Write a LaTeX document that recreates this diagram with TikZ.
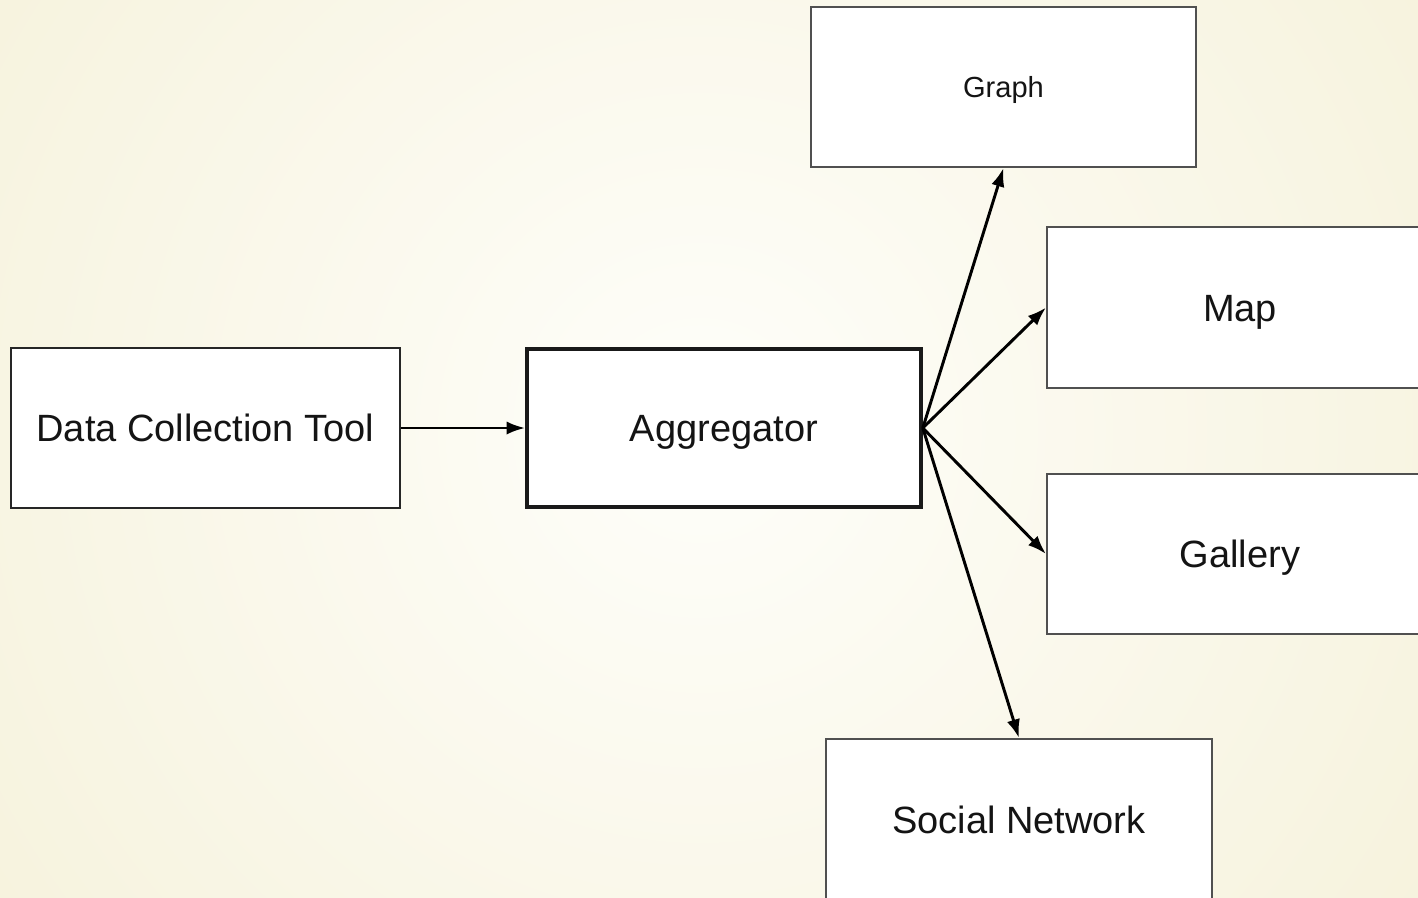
\documentclass[tikz,border=0pt]{standalone}
\usepackage{fontspec}
\setmainfont{Liberation Sans}
\usetikzlibrary{arrows.meta}
\newdimen\pxu
\pxu=0.75pt
\definecolor{cream}{RGB}{246,242,220}
\definecolor{centerc}{RGB}{254,254,250}
\definecolor{boxgray}{RGB}{80,80,80}
\definecolor{txt}{RGB}{20,20,20}
\tikzset{
  box/.style={rectangle, draw=boxgray, fill=white, line width=2\pxu, inner sep=0pt,
    font=\fontsize{28.5}{32}\selectfont, text=txt, text height=20.4pt, text depth=0pt},
  smallbox/.style={box, font=\fontsize{21.8}{25}\selectfont, text height=15.6pt},
  strongbox/.style={box, draw=black!90, line width=3.6\pxu},
  conn/.style={line width=2.2pt, black, -{Latex[length=14pt,width=10pt]}}
}
\begin{document}
\begin{tikzpicture}[x=0.75pt,y=-0.75pt]
\clip (0,0) rectangle (1418,897);
\fill[cream] (0,0) rectangle (1418,897);
\shade[inner color=centerc, outer color=cream] (700,430) circle (900);
\node[box, draw=black!85, minimum width=389\pxu, minimum height=160\pxu] (dct) at (205.5,428) {Data Collection Tool};
\node[strongbox, minimum width=394\pxu, minimum height=158\pxu] (agg) at (724,428) {Aggregator};
\node[smallbox, minimum width=385\pxu, minimum height=160\pxu] (graph) at (1003.5,87) {Graph};
\node[box, minimum width=386\pxu, minimum height=161\pxu] (map) at (1240,307.5) {Map};
\node[box, minimum width=386\pxu, minimum height=160\pxu] (gal) at (1240,554) {Gallery};
\node[box, minimum width=386\pxu, minimum height=162\pxu] (soc) at (1019,820) {Social Network};
\draw[conn] (dct.east) -- (agg.west);
\draw[conn] (agg.east) -- (graph.south);
\draw[conn] (agg.east) -- (map.west);
\draw[conn] (agg.east) -- (gal.west);
\draw[conn] (agg.east) -- (soc.north);
\end{tikzpicture}
\end{document}
